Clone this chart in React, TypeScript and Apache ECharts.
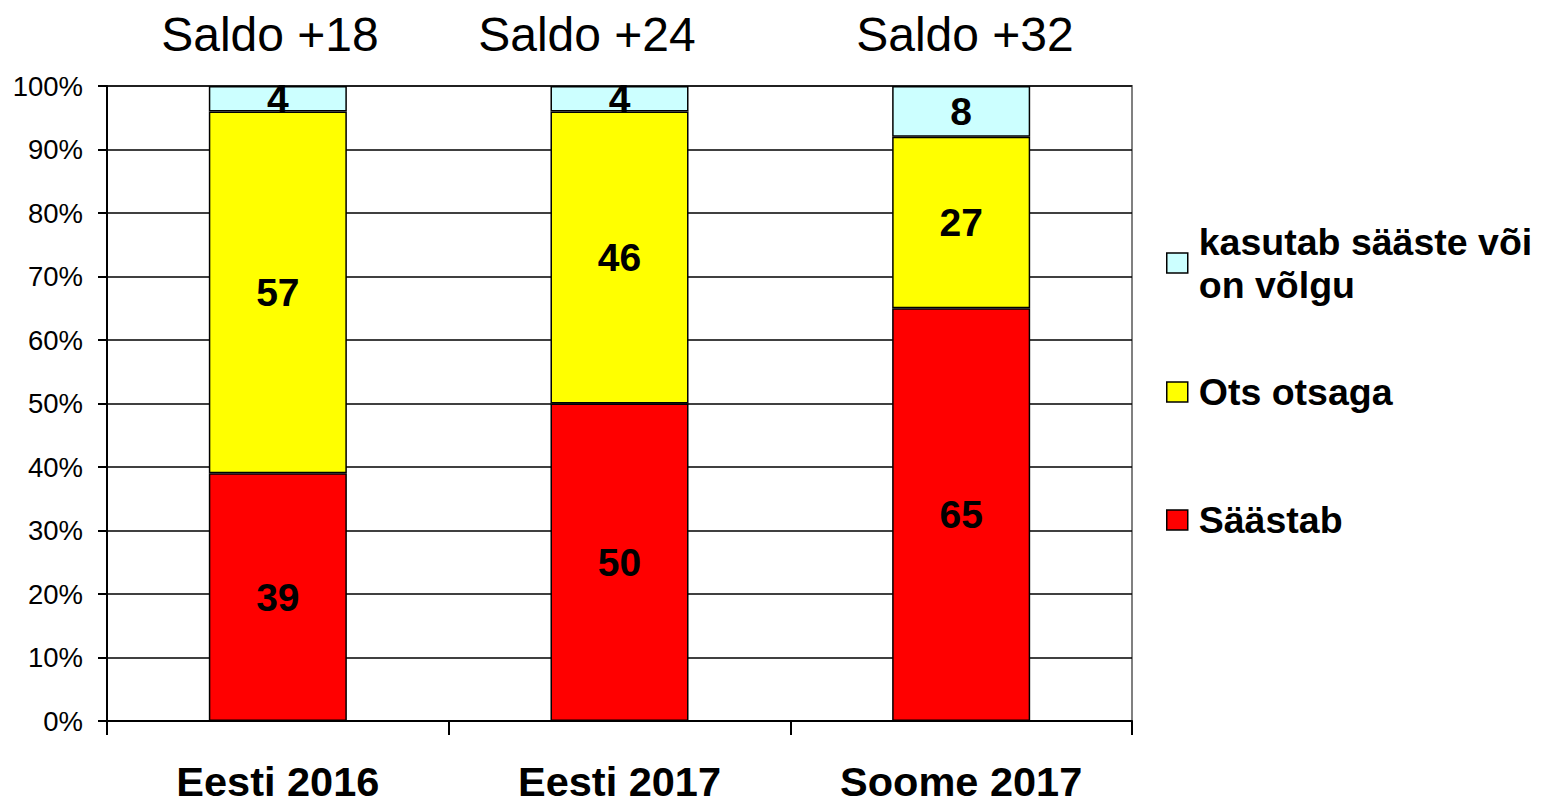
import React, { useEffect, useRef } from "react";
import * as echarts from "echarts";

const categories = ["Eesti 2016", "Eesti 2017", "Soome 2017"];
const seriesNames = ["Säästab", "Ots otsaga", "kasutab sääste või\non võlgu"];
const saastab = [39, 50, 65];
const otsOtsaga = [57, 46, 27];
const kasutab = [4, 4, 8];
const saldoLabels = ["Saldo +18", "Saldo +24", "Saldo +32"];
const yTicks = [0, 10, 20, 30, 40, 50, 60, 70, 80, 90, 100];

const FONT = "'Liberation Sans', Arial, sans-serif";

export default function App() {
  const ref = useRef<HTMLDivElement>(null);
  useEffect(() => {
    if (!ref.current) return;
    const chart = echarts.init(ref.current, null, { renderer: "svg" });
    const colors = ["#FF0000", "#FFFF00", "#CCFFFF"];
    const values = [saastab, otsOtsaga, kasutab];
    const saldoX = [270, 587, 965];
    const legendTops = [198.5, 370.5, 498.5];
    const option: any = {
      animation: false,
      backgroundColor: "#ffffff",
      textStyle: { fontFamily: FONT },
      grid: {
        left: 107,
        right: 411,
        top: 86,
        bottom: 83,
        show: true,
        containLabel: false,
        outerBoundsMode: "none",
        borderColor: "#808080",
        borderWidth: 2,
        backgroundColor: "transparent",
      },
      title: saldoLabels.map((t, i) => ({
        text: t,
        left: saldoX[i],
        top: 10,
        textAlign: "center",
        textStyle: { fontFamily: FONT, fontSize: 48, fontWeight: "normal", color: "#000" },
        padding: 0,
      })),
      legend: [2, 1, 0].map((si, k) => ({
        data: [
          {
            name: seriesNames[si],
            textStyle:
              si === 2
                ? { padding: [43, 0, 0, 6], lineHeight: 43 }
                : { padding: [0, 0, 0, 6], lineHeight: 43 },
          },
        ],
        left: 1166,
        top: legendTops[k],
        orient: "vertical",
        padding: 0,
        itemWidth: 21,
        itemHeight: 20,
        icon: "rect",
        selectedMode: false,
        itemStyle: { borderColor: "#000", borderWidth: 1.5 },
        textStyle: { fontFamily: FONT, fontSize: 37.5, fontWeight: "bold", color: "#000", lineHeight: 43 },
      })),
      xAxis: {
        type: "category",
        data: categories,
        boundaryGap: true,
        axisLine: { show: true, lineStyle: { color: "#000", width: 2 } },
        axisTick: { show: true, length: 14, lineStyle: { color: "#000", width: 2 } },
        axisLabel: {
          margin: 42,
          lineHeight: 36,
          fontFamily: FONT,
          fontSize: 41.5,
          fontWeight: "bold",
          color: "#000",
        },
      },
      yAxis: {
        type: "value",
        min: yTicks[0],
        max: yTicks[yTicks.length - 1],
        interval: 10,
        axisLine: { show: true, lineStyle: { color: "#000", width: 2 } },
        axisTick: { show: true, length: 9, lineStyle: { color: "#000", width: 2 } },
        axisLabel: {
          margin: 24,
          formatter: "{value}%",
          fontFamily: FONT,
          fontSize: 27.5,
          color: "#000",
        },
        splitLine: { show: true, lineStyle: { color: "#000", width: 1.5 } },
      },
      series: seriesNames.map((name, i) => ({
        name,
        type: "bar",
        stack: "total",
        barWidth: "40.4%",
        data: values[i],
        itemStyle: { color: colors[i], borderColor: "#000", borderWidth: 1.5 },
        label: {
          show: true,
          position: "inside",
          formatter: "{c}",
          fontFamily: FONT,
          fontSize: 39,
          fontWeight: "bold",
          color: "#000",
          textBorderWidth: 0,
        },
      })),
    };
    chart.setOption(option);
    return () => chart.dispose();
  }, []);
  return (
    <div
      ref={ref}
      style={{ position: "absolute", left: 0, top: 0, width: 1543, height: 804 }}
    />
  );
}
